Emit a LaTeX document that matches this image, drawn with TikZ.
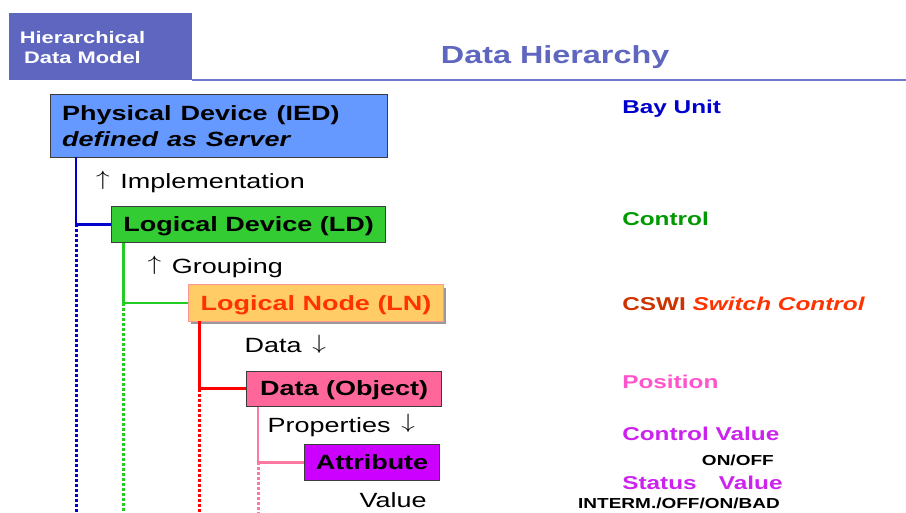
\documentclass[tikz,border=0pt]{standalone}
\usepackage{fontspec}
\setmainfont{Liberation Sans}
\usetikzlibrary{shadows}
\definecolor{hdrblue}{RGB}{94,102,192}
\definecolor{hdrline}{RGB}{110,118,206}
\definecolor{pdblue}{RGB}{102,153,255}
\definecolor{ldgreen}{RGB}{51,204,51}
\definecolor{lnorange}{RGB}{255,204,102}
\definecolor{lnedge}{RGB}{255,150,150}
\definecolor{lnred}{RGB}{255,51,0}
\definecolor{dopink}{RGB}{255,102,153}
\definecolor{attrpurple}{RGB}{204,0,255}
\definecolor{boxedge}{RGB}{60,60,60}
\definecolor{lineblue}{RGB}{0,0,204}
\definecolor{linegreen}{RGB}{34,204,34}
\definecolor{linered}{RGB}{255,0,0}
\definecolor{linepink}{RGB}{255,120,160}
\definecolor{ctrlgreen}{RGB}{0,153,0}
\definecolor{cswibrown}{RGB}{204,51,0}
\definecolor{pospink}{RGB}{255,85,204}
\definecolor{valpurple}{RGB}{204,34,238}
\tikzset{
  x=1pt,y=-1pt,
}
\newcommand{\upto}{\raisebox{0.19em}{$\uparrow$}\hspace{0.4em}}
\newcommand{\downto}{\hspace{0.4em}\raisebox{0.19em}{$\downarrow$}}
\tikzstyle{stretch}=[xscale=1.31]
\tikzstyle{levelbox}=[stretch,draw=boxedge,line width=.8pt,anchor=north west,inner sep=0pt,
  text height=19pt,text depth=4.3pt,font=\bfseries\fontsize{20.6}{26}\selectfont]
\tikzstyle{linktext}=[stretch,inner sep=0pt,anchor=base west,font=\fontsize{20.6}{26}\selectfont]
\tikzstyle{roletext}=[stretch,inner sep=0pt,anchor=base west,font=\bfseries\fontsize{18.6}{22}\selectfont]
\tikzstyle{valuetext}=[stretch,inner sep=0pt,anchor=base east,font=\bfseries\fontsize{14.5}{17}\selectfont]
\tikzstyle{branchline}=[line width=2.3pt]
\tikzstyle{trailline}=[line width=3pt,line cap=butt,dash pattern=on 3pt off 2pt]

\begin{document}
\begin{tikzpicture}
  \useasboundingbox (0,0) rectangle (906,513);
  \fill[hdrblue] (9,13) rectangle (192,80);
  \draw[hdrline,line width=2pt] (192,80) -- (906,80);
  \node[stretch,inner sep=0pt,align=center,text=white,font=\bfseries\fontsize{16.7}{20.7}\selectfont]
    (model) at (82.5,47.5) {Hierarchical\\Data Model};
  \node[stretch,inner sep=0pt,anchor=base west,text=hdrblue,font=\bfseries\fontsize{24.7}{30}\selectfont]
    (title) at (440.7,63.3) {Data Hierarchy};

  \node[levelbox,fill=pdblue,text height=,text depth=,inner xsep=8.8pt,text width=239.4pt,
    align=left,minimum height=63pt] (pd) at (50,93.7)
    {\rule{0pt}{17pt}Physical Device (IED)\\\textit{defined as Server}};
  \node[levelbox,fill=ldgreen,minimum width=209.2pt,minimum height=36.6pt] (ld) at (111,205.7)
    {Logical Device (LD)};
  \node[levelbox,fill=lnorange,draw=lnedge,text=lnred,minimum width=195.1pt,minimum height=36.4pt,
    drop shadow={shadow xshift=2.4pt,shadow yshift=-3pt,fill=gray!80,opacity=1}] (ln) at (187.7,284.3)
    {Logical Node (LN)};
  \node[levelbox,fill=dopink,minimum width=148.9pt,minimum height=35pt] (do) at (246,370.7)
    {Data (Object)};
  \node[levelbox,fill=attrpurple,minimum width=102.6pt,minimum height=36pt] (attr) at (304.3,444)
    {Attribute};

  \coordinate (bottom) at (0,513);
  \draw[branchline,lineblue] ([xshift=26pt]pd.south west) coordinate (pdfoot) |- (ld.west);
  \draw[trailline,lineblue] (pdfoot |- ld.west) -- (pdfoot |- bottom);
  \draw[branchline,linegreen] ([xshift=12.5pt]ld.south west) coordinate (ldfoot) |- (ln.west);
  \draw[trailline,linegreen] (ldfoot |- ln.west) -- (ldfoot |- bottom);
  \draw[branchline,linered] ([xshift=11.8pt]ln.south west) coordinate (lnfoot) |- (do.west);
  \draw[trailline,linered] (lnfoot |- do.west) -- (lnfoot |- bottom);
  \draw[branchline,linepink] ([xshift=12pt]do.south west) coordinate (dofoot) |- (attr.west);
  \draw[trailline,linepink] (dofoot |- attr.west) -- (dofoot |- bottom);

  \node[linktext] (impl) at (95.8,189) {\upto Implementation};
  \node[linktext] (group) at (147.3,274) {\upto Grouping};
  \node[linktext] (data) at (244.3,353) {Data\downto};
  \node[linktext] (prop) at (267.3,432.7) {Properties\downto};
  \node[linktext] (value) at (359.3,507.3) {Value};

  \node[roletext,text=lineblue] (bay) at (622,113.3) {Bay Unit};
  \node[roletext,text=ctrlgreen] (ctrl) at (622,226) {Control};
  \node[roletext,text=cswibrown] (cswi) at (622,310.7) {CSWI \textcolor{lnred}{\textit{Switch Control}}};
  \node[roletext,text=pospink] (pos) at (622,388.3) {Position};
  \node[roletext,text=valpurple] (ctrlval) at (622,440.7) {Control Value};
  \node[valuetext] (onoff) at (774,465) {ON/OFF};
  \node[roletext,text=valpurple] (statval) at (622,489.3) {Status\hspace{17pt}Value};
  \node[valuetext] (states) at (780,508.3) {INTERM./OFF/ON/BAD};
\end{tikzpicture}
\end{document}
